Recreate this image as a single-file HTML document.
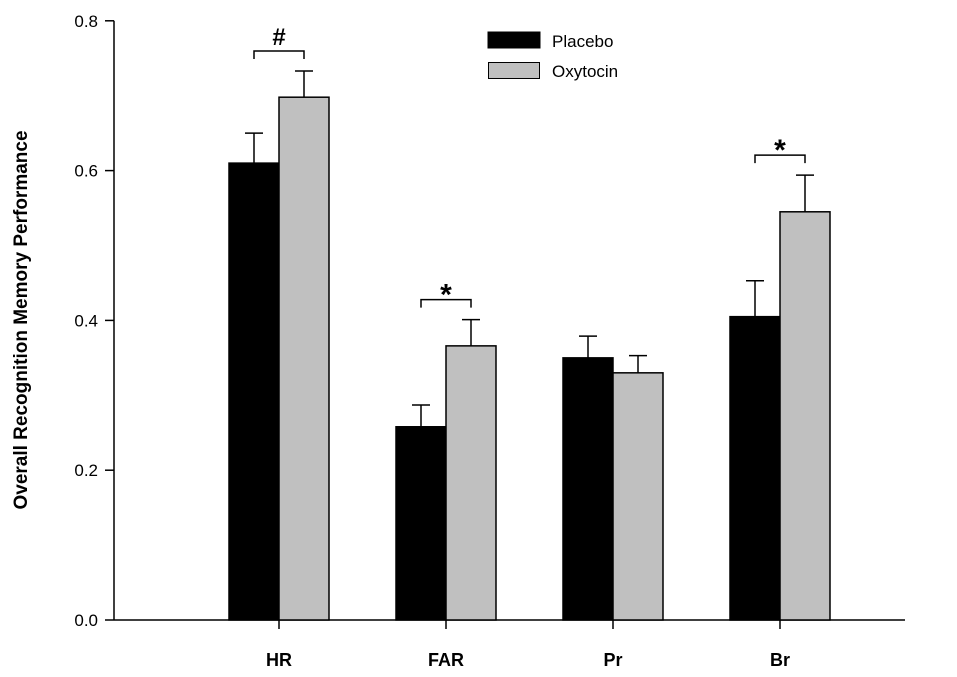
<!DOCTYPE html>
<html><head><meta charset="utf-8"><style>
body{margin:0;background:#fff}
svg{display:block;font-family:"Liberation Sans",Arial,sans-serif}
</style></head><body>
<svg id="chart" width="957" height="677" viewBox="0 0 957 677" xmlns="http://www.w3.org/2000/svg">
<g id="axes"></g>
<g id="bars"></g>
<text transform="translate(27,320) rotate(-90)" text-anchor="middle" font-size="19" font-weight="bold">Overall Recognition Memory Performance</text>
<g>
<rect x="488" y="32" width="52" height="16" fill="#000" stroke="#000"/>
<text x="552" y="47" font-size="17">Placebo</text>
<rect x="488.5" y="62.5" width="51" height="16" fill="#c0c0c0" stroke="#000"/>
<text x="552" y="77" font-size="17">Oxytocin</text>
</g>
</svg>
<script>
const categories=["HR","FAR","Pr","Br"];
const placebo=[0.61,0.258,0.35,0.405];
const placeboErr=[0.04,0.029,0.029,0.048];
const oxytocin=[0.698,0.366,0.33,0.545];
const oxytocinErr=[0.035,0.035,0.023,0.049];
const marks=["#","*","","*"];
const yTicks=[0,0.2,0.4,0.6,0.8];
const NS="http://www.w3.org/2000/svg";
const y=v=>620-v*749;
const xc=i=>279+167*i;
const BW=50;
function mk(tag,attrs,parent){const e=document.createElementNS(NS,tag);for(const k in attrs)e.setAttribute(k,attrs[k]);parent.appendChild(e);return e;}
const ax=document.getElementById('axes'),bars=document.getElementById('bars');
let l=mk('line',{x1:114,y1:y(0.8),x2:114,y2:620,stroke:'#000','stroke-width':1.5},ax);

l=mk('line',{x1:114,y1:620,x2:905,y2:620,stroke:'#000','stroke-width':1.5},ax);

yTicks.forEach(v=>{
 let t=mk('line',{x1:105,x2:114,y1:y(v),y2:y(v),stroke:'#000','stroke-width':1.5},ax);
 
 let tx=mk('text',{x:98,y:y(v)+6,'text-anchor':'end','font-size':17},ax);tx.textContent=v.toFixed(1);
 
});
categories.forEach((c,i)=>{
 const cx=xc(i);
 let t=mk('line',{x1:cx,x2:cx,y1:620,y2:629,stroke:'#000','stroke-width':1.5},ax);
 
 let tx=mk('text',{x:cx,y:666,'text-anchor':'middle','font-size':18,'font-weight':'bold'},ax);tx.textContent=c;
 
 [[placebo,placeboErr,'#000',cx-BW,'placebo'],[oxytocin,oxytocinErr,'#c0c0c0',cx,'oxytocin']].forEach(([vals,errs,col,x0,nm])=>{
  const v=vals[i],e=errs[i],bc=x0+BW/2;
  mk('line',{x1:bc,x2:bc,y1:y(v+e),y2:y(v),stroke:'#000','stroke-width':1.5},bars);
  mk('line',{x1:bc-9,x2:bc+9,y1:y(v+e),y2:y(v+e),stroke:'#000','stroke-width':1.5},bars);
  let r=mk('rect',{x:x0,y:y(v),width:BW,height:620-y(v),fill:col,stroke:'#000','stroke-width':1.5},bars);
  
  
 });
 if(marks[i]){
  const top=Math.max(placebo[i]+placeboErr[i],oxytocin[i]+oxytocinErr[i]);
  const by=y(top)-20,a=cx-25,b=cx+25;
  let p=mk('path',{d:`M${a},${by+8}V${by}H${b}V${by+8}`,fill:'none',stroke:'#000','stroke-width':1.5},bars);
  
  let s=mk('text',{x:cx,y:marks[i]=='*'?by+5:by-6,'text-anchor':'middle','font-size':marks[i]=='*'?30:24,'font-weight':'bold'},bars);
  s.textContent=marks[i];
  
 }
});
</script>
</body></html>
